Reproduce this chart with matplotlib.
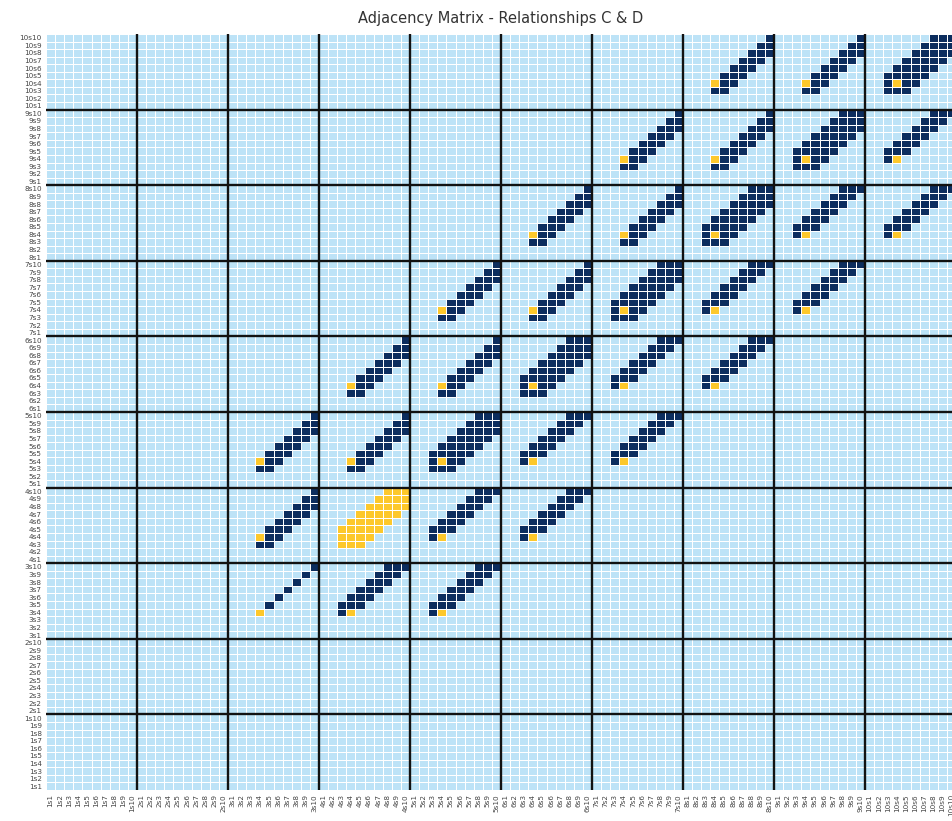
import numpy as np
import matplotlib
matplotlib.use("Agg")
import matplotlib.pyplot as plt
from matplotlib.colors import ListedColormap

# Adjacency matrix - 10 groups x 10 members
n_groups = 10
n_members = 10
labels = [f"{g}s{m}" for g in range(1, n_groups + 1) for m in range(1, n_members + 1)]

# inner 10x10 patterns, top row first ('#' dark, 'Y' yellow, '.' empty)
THIN = [
    ".........#",
    "........#.",
    ".......#..",
    "......#...",
    ".....#....",
    "....#.....",
    "...Y......",
    "..........",
    "..........",
    "..........",
]
THICK = [
    ".......###",
    "......####",
    ".....#####",
    "....#####.",
    "...#####..",
    "..#####...",
    "..#Y##....",
    "..###.....",
    "..........",
    "..........",
]
ALLYELLOW = [
    ".......YYY",
    "......YYYY",
    ".....YYYYY",
    "....YYYYY.",
    "...YYYYY..",
    "..YYYYY...",
    "..YYYY....",
    "..YYY.....",
    "..........",
    "..........",
]
LEFT_SIDE = [
    ".........#",
    "........##",
    ".......###",
    "......###.",
    ".....###..",
    "....###...",
    "...Y##....",
    "...##.....",
    "..........",
    "..........",
]
RIGHT_SIDE = [
    ".......###",
    "......###.",
    ".....###..",
    "....###...",
    "...###....",
    "..###.....",
    "..#Y......",
    "..........",
    "..........",
    "..........",
]
patterns = {"thin": THIN, "thick": THICK, "yellow": ALLYELLOW,
            "left": LEFT_SIDE, "right": RIGHT_SIDE}

# (block row from bottom, block column from left, pattern)
blocks = [
    (3, 3, "thin"), (3, 4, "right"), (3, 5, "right"),
    (4, 3, "left"), (4, 4, "yellow"), (4, 5, "right"), (4, 6, "right"),
    (5, 3, "left"), (5, 4, "left"), (5, 5, "thick"), (5, 6, "right"), (5, 7, "right"),
    (6, 4, "left"), (6, 5, "left"), (6, 6, "thick"), (6, 7, "right"), (6, 8, "right"),
    (7, 5, "left"), (7, 6, "left"), (7, 7, "thick"), (7, 8, "right"), (7, 9, "right"),
    (8, 6, "left"), (8, 7, "left"), (8, 8, "thick"), (8, 9, "right"), (8, 10, "right"),
    (9, 7, "left"), (9, 8, "left"), (9, 9, "thick"), (9, 10, "right"),
    (10, 8, "left"), (10, 9, "left"), (10, 10, "thick"),
]

code = {".": 0, "#": 1, "Y": 2}
N = n_groups * n_members
M = np.zeros((N, N), dtype=int)
for br, bc, name in blocks:
    pat = patterns[name]
    for r, line in enumerate(pat):
        i = n_members - 1 - r
        for j, ch in enumerate(line):
            M[(br - 1) * n_members + i, (bc - 1) * n_members + j] = code[ch]

cmap = ListedColormap(["#bde3f7", "#0c2d5e", "#fdc82b"])

fig = plt.figure(figsize=(9.52, 8.21), dpi=100)
ax = fig.add_axes([46 / 952, 1 - 790 / 821, 910 / 952, 756 / 821])
ax.pcolormesh(np.arange(N + 1), np.arange(N + 1), M, cmap=cmap, vmin=0, vmax=2,
              edgecolors="white", linewidth=0.6)
for k in range(1, n_groups):
    ax.axhline(k * n_members, color="#111111", lw=1.7)
    ax.axvline(k * n_members, color="#111111", lw=1.7)
ax.set_xlim(0, N)
ax.set_ylim(0, N)
ax.set_xticks(np.arange(N) + 0.5)
ax.set_yticks(np.arange(N) + 0.5)
ax.set_xticklabels(labels, rotation=90, fontsize=5.2, color="#444444")
ax.set_yticklabels(labels, fontsize=5.2, color="#444444")
ax.tick_params(length=0, pad=3)
for s in ax.spines.values():
    s.set_visible(False)
ax.set_title("Adjacency Matrix - Relationships C & D", fontsize=10.5, color="#333333", pad=8)

fig.savefig("out.png", dpi=100)
